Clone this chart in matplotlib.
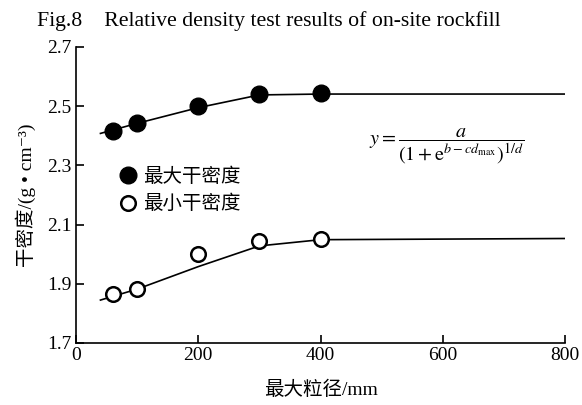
import matplotlib
matplotlib.use("Agg")
import matplotlib.pyplot as plt

plt.rcParams['font.family'] = ['Liberation Serif', 'Noto Sans CJK SC', 'DejaVu Sans']
plt.rcParams['mathtext.fontset'] = 'stix'

# measured points (max particle size in mm)
sizes = [60, 100, 200, 300, 400]
rho_max = [2.415, 2.442, 2.502, 2.541, 2.543]
rho_min = [1.865, 1.883, 2.0, 2.046, 2.050]

# fitted curves
fit_x = [40, 100, 200, 300, 400, 800]
fit_max = [2.408, 2.442, 2.495, 2.538, 2.541, 2.541]
fit_min = [1.845, 1.882, 1.958, 2.028, 2.049, 2.053]

fig = plt.figure(figsize=(5.82, 4.05), dpi=100)
ax = fig.add_axes([0.1306, 0.1531, 0.8402, 0.7309])

ax.plot(fit_x, fit_max, color='black', lw=1.2)
ax.plot(fit_x, fit_min, color='black', lw=1.2)
ax.plot(sizes, rho_max, 'o', color='black', ms=12, label='最大干密度')
ax.plot(sizes, rho_min, 'o', mfc='white', mec='black', mew=1.8, ms=10.5,
        label='最小干密度')

ax.set_xlim(0, 800)
ax.set_ylim(1.7, 2.7)
ax.set_xticks([0, 200, 400, 600, 800])
ax.set_yticks([1.7, 1.9, 2.1, 2.3, 2.5, 2.7])
ax.set_yticklabels(['1.7', '1.9', '2.1', '2.3', '2.5', '2.7'])
ax.spines['top'].set_visible(False)
ax.spines['right'].set_visible(False)
for s in ['left', 'bottom']:
    ax.spines[s].set_linewidth(1.2)
ax.tick_params(direction='in', length=6, width=1.2, labelsize=14, pad=3)

ax.set_xlabel('最大粒径/mm', fontsize=14, labelpad=12)
ax.set_ylabel('干密度/(g • cm⁻³)', fontsize=14, labelpad=8)

ax.legend(loc='center left', bbox_to_anchor=(0.07, 0.515), frameon=False,
          fontsize=14, handletextpad=0.3, labelspacing=0.45, handlelength=1.0,
          borderaxespad=0)

ax.text(0.60, 0.666, r'$y=\dfrac{a}{(1+\mathrm{e}^{b-cd_{\max}})^{1/d}}$',
        transform=ax.transAxes, fontsize=14.5, va='center', ha='left')

fig.text(0.063, 0.935, 'Fig.8    Relative density test results of on-site rockfill',
         fontsize=15.7, ha='left', va='baseline')

fig.savefig('out.png', dpi=100)
